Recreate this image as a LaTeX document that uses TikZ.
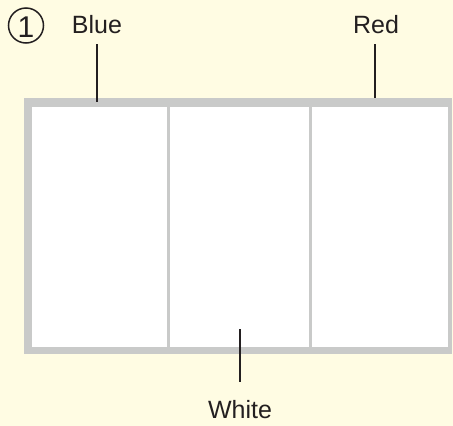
\documentclass[tikz,border=0pt]{standalone}
\usepackage{fontspec}
\setmainfont{Liberation Sans}
\definecolor{bg}{HTML}{FFFCE3}
\definecolor{frame}{HTML}{C9CAC9}
\definecolor{ink}{HTML}{231F20}
\begin{document}
\begin{tikzpicture}[x=1pt,y=-1pt,
  lbl/.style={font=\fontsize{25}{25}\selectfont, text=ink, inner sep=0pt},
  leader/.style={draw=ink, line width=1.6pt},
  divider/.style={draw=frame, line width=2.5pt}]
\useasboundingbox (0,0) rectangle (453,426);
\fill[bg] (0,0) rectangle (453,426);
% flag
\fill[frame] (24,98) rectangle (452,354);
\fill[white] (32,107) rectangle (448,347);
\draw[divider] (168.5,107) -- (168.5,347);
\draw[divider] (310.5,107) -- (310.5,347);
% labels
\node[draw=ink, line width=1.5pt, circle, minimum size=35pt, inner sep=0pt, text=ink] (num) at (26,25.5) {};
\node[font=\fontsize{30}{30}\selectfont, text=ink, inner sep=0pt, anchor=base] (numtext) at (26,37) {1};
\node[lbl, anchor=base] (blue) at (97,33) {Blue};
\node[lbl, anchor=base] (red) at (376,33) {Red};
\node[lbl, anchor=base] (white) at (240,418) {White};
\coordinate (bluept) at (97,102);
\coordinate (redpt) at (375,98);
\coordinate (whitept) at (240,329);
\draw[leader] (97,44) -- (bluept);
\draw[leader] (375,44) -- (redpt);
\draw[leader] (whitept) -- (240,382);
\end{tikzpicture}
\end{document}
